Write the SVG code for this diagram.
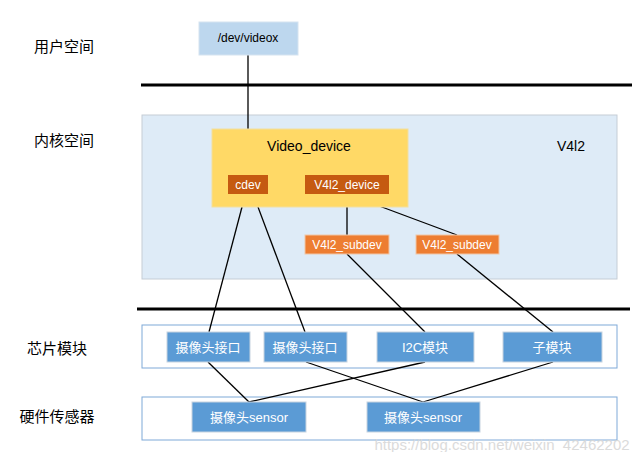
<svg xmlns="http://www.w3.org/2000/svg" width="639" height="452" viewBox="0 0 639 452">
<style>
text{font-family:"Liberation Sans","Noto Sans CJK SC",sans-serif;text-anchor:middle;dominant-baseline:central}
.lbl{font-size:15px;fill:#000}
.sm{font-size:12px}
.cj{font-size:13px}
.w{fill:#fff}
.blue{fill:#5B9BD5;stroke:#C8D4E0;stroke-width:1}
.c{stroke:#000;stroke-width:1.3;fill:none}
.bar{stroke:#000;stroke-width:3}
</style>
<rect width="639" height="452" fill="#fff"/>
<g id="labels">
<text class="lbl" x="64" y="46">用户空间</text>
<text class="lbl" x="64" y="140">内核空间</text>
<text class="lbl" x="57" y="348">芯片模块</text>
<text class="lbl" x="57" y="416">硬件传感器</text>
</g>
<g id="bars">
<line class="bar" x1="141" y1="85" x2="632" y2="85"/>
<line class="bar" x1="137" y1="309" x2="630" y2="309"/>
</g>
<g id="kernel">
<rect x="142" y="115" width="475" height="164" fill="#DEEBF7" stroke="#C5CDD6"/>
<text x="571" y="146" font-size="14">V4l2</text>
</g>
<g id="chip-row"><rect x="142" y="325" width="475" height="43" fill="none" stroke="#7FA9D8"/></g>
<g id="sensor-row"><rect x="142" y="397" width="475" height="43" fill="none" stroke="#7FA9D8"/></g>
<g id="connectors">
<line class="c" x1="248" y1="55" x2="248" y2="176"/>
<line class="c" x1="347" y1="194" x2="347" y2="235"/>
<line class="c" x1="347" y1="194" x2="457" y2="235"/>
<line class="c" x1="242" y1="207" x2="209" y2="332"/>
<line class="c" x1="258" y1="207" x2="305" y2="332"/>
<line class="c" x1="347" y1="254" x2="425" y2="332"/>
<line class="c" x1="457" y1="254" x2="553" y2="332"/>
<line class="c" x1="208" y1="362" x2="249" y2="402"/>
<line class="c" x1="306" y1="362" x2="423" y2="402"/>
<line class="c" x1="425" y1="362" x2="249" y2="402"/>
<line class="c" x1="553" y1="362" x2="423" y2="402"/>
</g>
<g id="videox">
<rect x="199" y="22" width="99" height="33" fill="#BDD7EE" stroke="#D5E3F0"/>
<text class="sm" x="248" y="38">/dev/videox</text>
</g>
<g id="video_device">
<rect x="212" y="129" width="196" height="78" fill="#FFD966" stroke="#F2DFA0"/>
<text x="309" y="146" font-size="14">Video_device</text>
</g>
<g id="cdev">
<rect x="228" y="175" width="40" height="19" fill="#C55A11"/>
<text class="sm w" x="248" y="184.5">cdev</text>
</g>
<g id="v4l2_device">
<rect x="305" y="175" width="84" height="19" fill="#C55A11"/>
<text class="sm w" x="347" y="184.5">V4l2_device</text>
</g>
<g id="subdev1">
<rect x="305" y="235" width="84" height="19" fill="#ED7D31" stroke="#F0C7A8"/>
<text class="sm w" x="347" y="244.5">V4l2_subdev</text>
</g>
<g id="subdev2">
<rect x="416" y="235" width="83" height="19" fill="#ED7D31" stroke="#F0C7A8"/>
<text class="sm w" x="457" y="244.5">V4l2_subdev</text>
</g>
<g id="cam_if1">
<rect class="blue" x="167" y="332" width="83" height="30"/>
<text class="cj w" x="208" y="347">摄像头接口</text>
</g>
<g id="cam_if2">
<rect class="blue" x="264" y="332" width="83" height="30"/>
<text class="cj w" x="305" y="347">摄像头接口</text>
</g>
<g id="i2c">
<rect class="blue" x="377" y="332" width="97" height="30"/>
<text class="cj w" x="425" y="347">I2C模块</text>
</g>
<g id="submodule">
<rect class="blue" x="503" y="332" width="99" height="30"/>
<text class="cj w" x="552" y="347">子模块</text>
</g>
<g id="sensor1">
<rect class="blue" x="192" y="402" width="114" height="30"/>
<text class="cj w" x="249" y="417">摄像头sensor</text>
</g>
<g id="sensor2">
<rect class="blue" x="367" y="402" width="113" height="30"/>
<text class="cj w" x="423" y="417">摄像头sensor</text>
</g>
<text x="502" y="444" font-size="15" fill="#D8D8D8" opacity="0.9">https://blog.csdn.net/weixin_42462202</text>
</svg>
